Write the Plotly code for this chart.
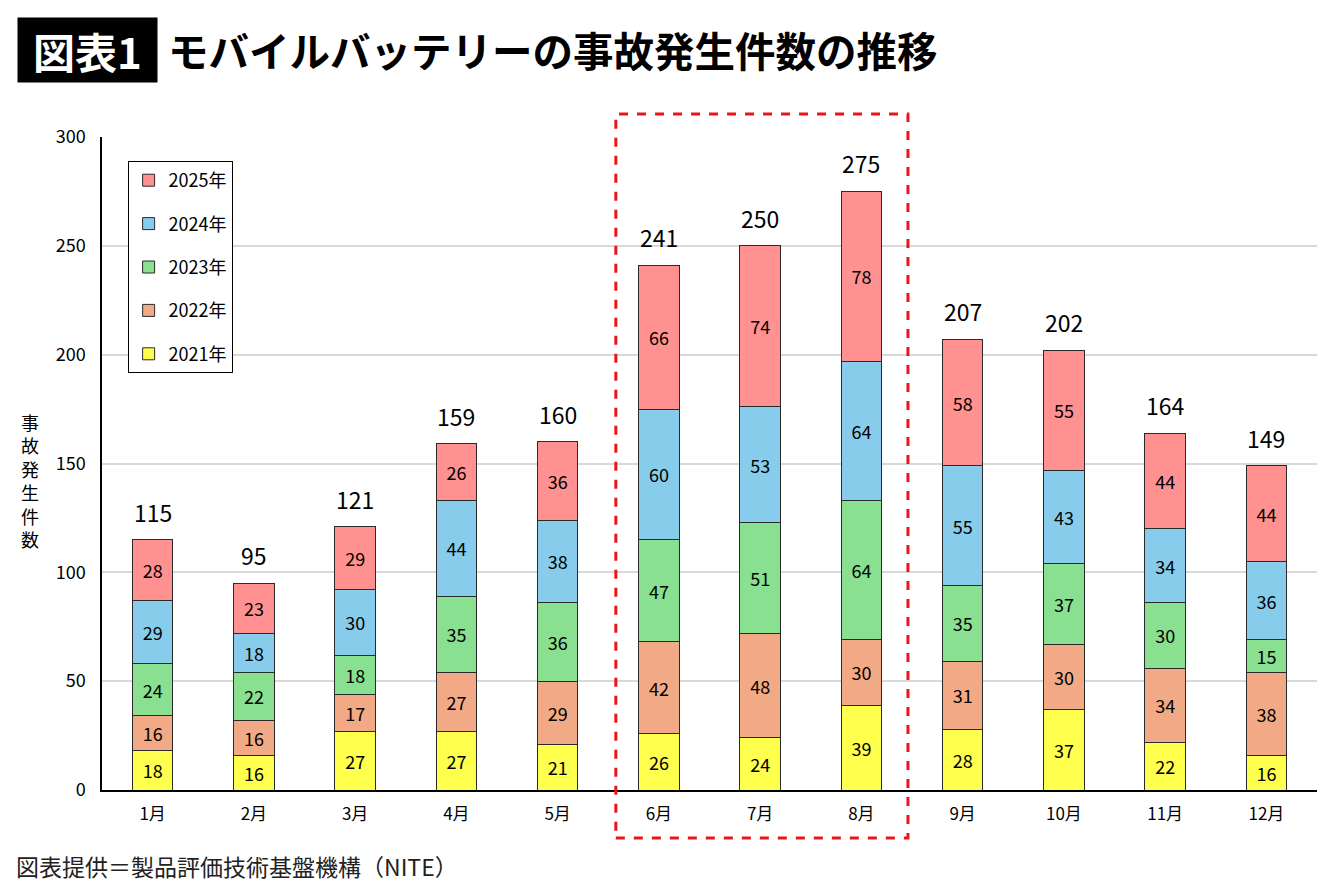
import plotly.graph_objects as go

months = ["1月", "2月", "3月", "4月", "5月", "6月", "7月", "8月", "9月", "10月", "11月", "12月"]
y2021 = [18, 16, 27, 27, 21, 26, 24, 39, 28, 37, 22, 16]
y2022 = [16, 16, 17, 27, 29, 42, 48, 30, 31, 30, 34, 38]
y2023 = [24, 22, 18, 35, 36, 47, 51, 64, 35, 37, 30, 15]
y2024 = [29, 18, 30, 44, 38, 60, 53, 64, 55, 43, 34, 36]
y2025 = [28, 23, 29, 26, 36, 66, 74, 78, 58, 55, 44, 44]
series_names = ["2021年", "2022年", "2023年", "2024年", "2025年"]
series_colors = ["#FFFF4D", "#F2A985", "#88E090", "#87CDEB", "#FF9191"]
series_values = [y2021, y2022, y2023, y2024, y2025]
y_ticks = [0, 50, 100, 150, 200, 250, 300]

totals = [sum(v) for v in zip(*series_values)]

FONT = "Noto Sans CJK JP"

fig = go.Figure()
n = len(series_names)
for i, (name, color, vals) in enumerate(zip(series_names, series_colors, series_values)):
    fig.add_trace(go.Bar(
        x=months, y=vals, name=name, legendgroup=name, legendrank=n - i,
        marker=dict(color=color, line=dict(color="#2a2a2a", width=1)),
        width=0.4,
        text=vals, textposition="inside", insidetextanchor="middle",
        textangle=0, constraintext="none",
        textfont=dict(size=18, color="black", family=FONT),
        hoverinfo="skip",
    ))

for m, t in zip(months, totals):
    fig.add_annotation(x=m, y=t, xref="x", yref="y", text=str(t), showarrow=False,
                       yanchor="bottom", yshift=9,
                       font=dict(size=23, color="black", family=FONT))

# page offset of 8px (browser body margin) compensated in coordinates
OFF = 8
W, H = 1332, 882
L, R, T, B = 102.4 - OFF, 23.4, 137 - OFF, 100
pw, ph = W - L - R, H - T - B

def px(x):
    return (x - OFF - L) / pw

def py(y):
    return (H - B - (y - OFF)) / ph

# highlight box around 6月-8月
fig.add_shape(type="rect", xref="x", yref="paper",
              x0=4.575, x1=7.46, y0=py(838), y1=py(114),
              line=dict(color="#E8161B", width=3, dash="dash"),
              fillcolor="rgba(0,0,0,0)", layer="above")

fig.add_annotation(xref="paper", yref="paper", x=px(87.5), y=py(50),
                   text="<b>図表1</b>", showarrow=False,
                   font=dict(size=42, color="white", family=FONT),
                   bgcolor="black", width=139, height=64, borderpad=0,
                   xanchor="center", yanchor="middle")
fig.add_annotation(xref="paper", yref="paper", x=px(166), y=py(50),
                   text="<b>モバイルバッテリーの事故発生件数の推移</b>", showarrow=False,
                   font=dict(size=40.5, color="black", family=FONT),
                   xanchor="left", yanchor="middle")
fig.add_annotation(xref="paper", yref="paper", x=px(14), y=py(866),
                   text="図表提供＝製品評価技術基盤機構（NITE）", showarrow=False,
                   font=dict(size=23, color="#222", family=FONT),
                   xanchor="left", yanchor="middle")
fig.add_annotation(xref="paper", yref="paper", x=px(30), y=py(480),
                   text="<br>".join("事故発生件数"), showarrow=False,
                   font=dict(size=18, color="black", family=FONT),
                   xanchor="center", yanchor="middle")

fig.update_layout(
    width=W, height=H,
    margin=dict(l=L, r=R, t=T, b=B, autoexpand=False),
    barmode="stack",
    paper_bgcolor="white", plot_bgcolor="white",
    font=dict(family=FONT, color="black"),
    legend=dict(
        x=px(128), y=py(161), xanchor="left", yanchor="top",
        traceorder="grouped", tracegroupgap=17,
        bordercolor="black", borderwidth=1, bgcolor="white",
        font=dict(size=18, family=FONT, color="black"),
        itemwidth=30, entrywidth=80,
    ),
    showlegend=True,
)
fig.update_xaxes(showline=True, linecolor="black", linewidth=1.5,
                 ticks="", tickfont=dict(size=17, family=FONT, color="black"),
                 ticklabelstandoff=8, showgrid=False)
fig.update_yaxes(range=[0, 300], tickvals=y_ticks, showline=True, linecolor="black",
                 linewidth=1.5, showgrid=True, gridcolor="#D9D9D9", gridwidth=1.5,
                 ticks="", tickfont=dict(size=18, family=FONT, color="black"),
                 ticklabelstandoff=11, zeroline=False)

fig.write_html("out.html")
